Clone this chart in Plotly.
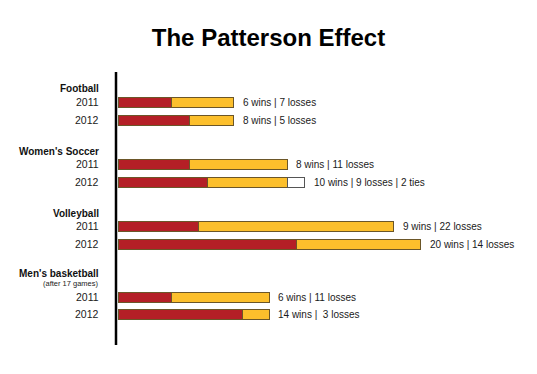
import plotly.graph_objects as go

# ---- data ----
sports = ["Football", "Women's Soccer", "Volleyball", "Men's basketball"]
sport_notes = ["", "", "", "(after 17 games)"]
years = ["2011", "2012"]
wins = [6, 8, 8, 10, 9, 20, 6, 14]
losses = [7, 5, 11, 9, 22, 14, 11, 3]
ties = [0, 0, 0, 2, 0, 0, 0, 0]
result_labels = [
    "6 wins | 7 losses",
    "8 wins | 5 losses",
    "8 wins | 11 losses",
    "10 wins | 9 losses | 2 ties",
    "9 wins | 22 losses",
    "20 wins | 14 losses",
    "6 wins | 11 losses",
    "14 wins |  3 losses",
]

# ---- layout positions (pixel-like units on a reversed y axis) ----
header_y = [88, 151, 213, 273]
note_y = [None, None, None, 283]
row_y = [102, 120, 164, 182, 226, 244, 297, 314]

RED = "#B41F26"
GOLD = "#FCBF2C"
EDGE = "#6B5628"
FONT = "Liberation Sans, Arial, Helvetica, sans-serif"

W, H = 537, 374
ML, MT, MB = 116, 71, 29
px_per_unit = 8.9
x0 = -2 / px_per_unit
x1 = x0 + (W - ML) / px_per_unit

fig = go.Figure()
fig.add_trace(go.Bar(y=row_y, x=wins, orientation="h", width=10,
                     marker=dict(color=RED, line=dict(color=EDGE, width=1)),
                     hoverinfo="skip"))
fig.add_trace(go.Bar(y=row_y, x=losses, orientation="h", width=10,
                     marker=dict(color=GOLD, line=dict(color=EDGE, width=1)),
                     hoverinfo="skip"))
tie_y = [y for y, t in zip(row_y, ties) if t > 0]
tie_x = [t for t in ties if t > 0]
fig.add_trace(go.Bar(y=tie_y, x=tie_x, orientation="h", width=10,
                     base=[w + l for w, l, t in zip(wins, losses, ties) if t > 0],
                     marker=dict(color="white", line=dict(color="#555555", width=1)),
                     hoverinfo="skip"))

annotations = []
# result texts
for y, w, l, t, lab in zip(row_y, wins, losses, ties, result_labels):
    annotations.append(dict(x=w + l + t, y=y, xref="x", yref="y", text=lab,
                            showarrow=False, xanchor="left", yanchor="middle",
                            xshift=7, font=dict(family=FONT, size=10, color="#1a1a1a")))
# year labels
for i, y in enumerate(row_y):
    annotations.append(dict(x=0, y=y, xref="paper", yref="y", text=years[i % 2],
                            showarrow=False, xanchor="right", yanchor="middle",
                            xshift=-15, font=dict(family=FONT, size=10.5, color="#1a1a1a")))
# sport headers
for s, y, n, ny in zip(sports, header_y, sport_notes, note_y):
    annotations.append(dict(x=0, y=y, xref="paper", yref="y", text="<b>" + s + "</b>",
                            showarrow=False, xanchor="right", yanchor="middle",
                            xshift=-15, font=dict(family=FONT, size=10, color="#111111")))
    if n:
        annotations.append(dict(x=0, y=ny, xref="paper", yref="y", text=n,
                                showarrow=False, xanchor="right", yanchor="middle",
                                xshift=-15, font=dict(family=FONT, size=7.5, color="#222222")))

fig.update_layout(
    width=W, height=H,
    margin=dict(l=ML, r=0, t=MT, b=MB, pad=0),
    paper_bgcolor="white", plot_bgcolor="white",
    barmode="stack",
    showlegend=False,
    title=dict(text="<b>The Patterson Effect</b>", x=0.5, xanchor="center",
               y=1 - 38 / H, yanchor="middle", yref="container",
               font=dict(family=FONT, size=24, color="#000000")),
    xaxis=dict(range=[x0, x1], visible=False, fixedrange=True),
    yaxis=dict(range=[H - MB, MT], visible=False, fixedrange=True),
    annotations=annotations,
    shapes=[dict(type="line", xref="paper", yref="y", x0=0, x1=0,
                 y0=72, y1=345, line=dict(color="#000000", width=2.5))],
)

fig.write_html("out.html", config={"displayModeBar": False},
               post_script="document.body.style.margin='0';document.body.style.overflow='hidden';")
